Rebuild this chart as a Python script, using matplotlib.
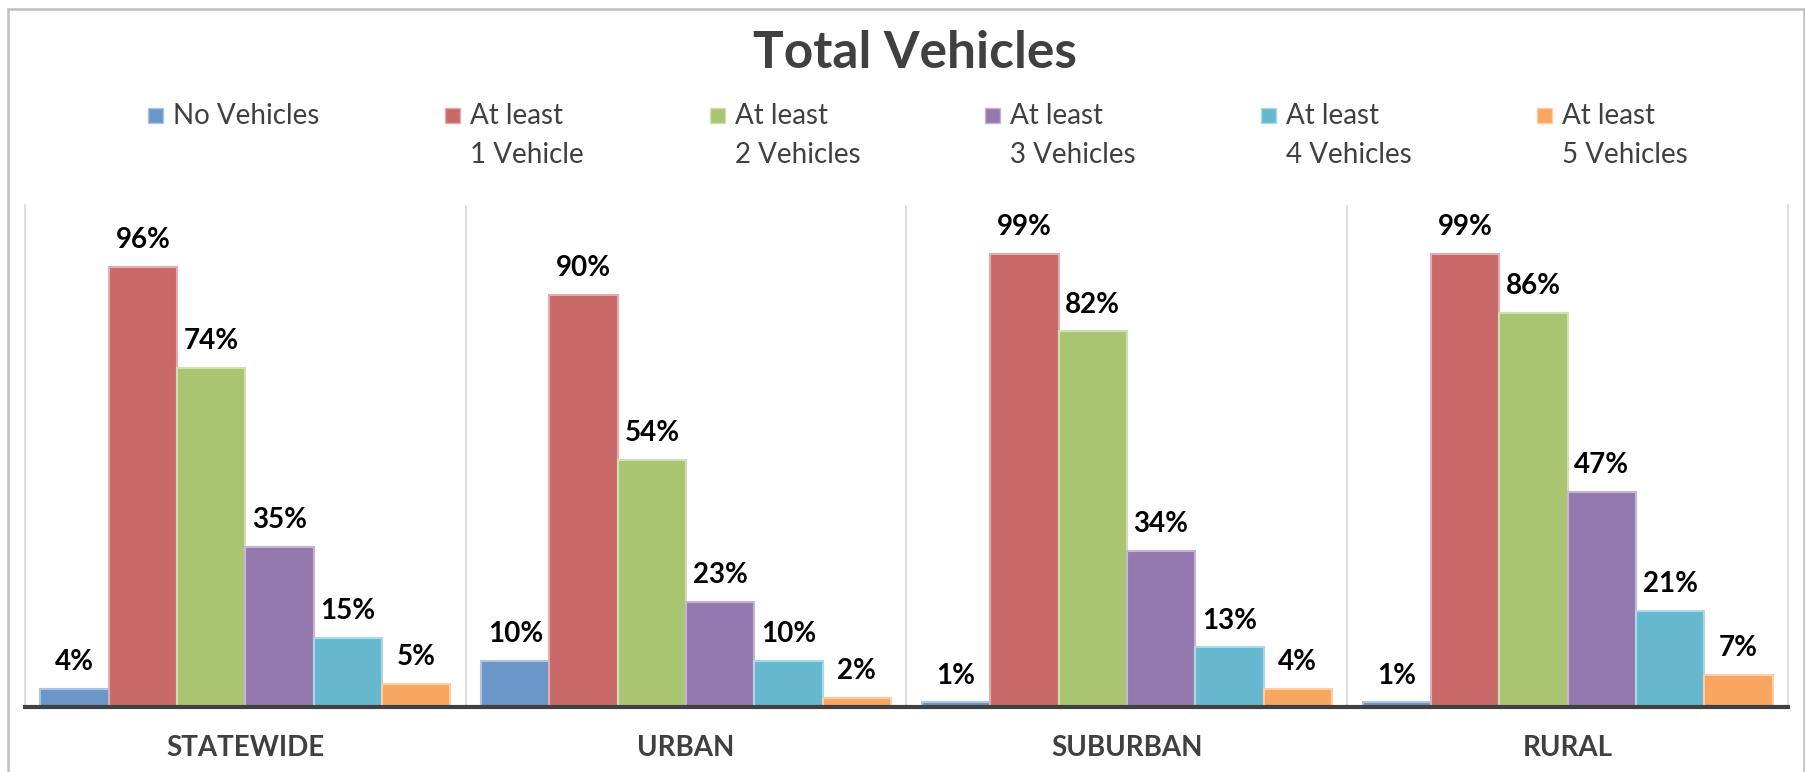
import matplotlib
matplotlib.use('Agg')
import matplotlib.pyplot as plt
from matplotlib.patches import Rectangle
import matplotlib.colors as mcolors
import numpy as np

plt.rcParams['font.family'] = ['Lato', 'DejaVu Sans']

TEXT_GRAY = '#404040'
GRID_GRAY = '#D9D9D9'

categories = ['STATEWIDE', 'URBAN', 'SUBURBAN', 'RURAL']
series_names = ['No Vehicles', 'At least\n1 Vehicle', 'At least\n2 Vehicles',
                'At least\n3 Vehicles', 'At least\n4 Vehicles', 'At least\n5 Vehicles']
colors = ['#6A96C8', '#C9696A', '#AAC572', '#9479AF', '#66B8CF', '#F8A660']

# percent of households, one list per series (statewide, urban, suburban, rural)
no_vehicles = [4, 10, 1, 1]
at_least_1 = [96, 90, 99, 99]
at_least_2 = [74, 54, 82, 86]
at_least_3 = [35, 23, 34, 47]
at_least_4 = [15, 10, 13, 21]
at_least_5 = [5, 2, 4, 7]
series = [no_vehicles, at_least_1, at_least_2, at_least_3, at_least_4, at_least_5]


def lighter(c, amount=0.45):
    r, g, b = mcolors.to_rgb(c)
    return (r + (1 - r) * amount, g + (1 - g) * amount, b + (1 - b) * amount)


W, H = 1806, 772
fig = plt.figure(figsize=(W / 100, H / 100), dpi=100)

# outer chart frame
fig.patches.append(Rectangle((8 / W, -0.05), (1804 - 8) / W, 1.05 - 9 / H,
                             transform=fig.transFigure, fill=False,
                             edgecolor='#BFBFBF', linewidth=1.8))

fig.text(915 / W, 1 - 68 / H, 'Total Vehicles', ha='center', va='baseline',
         fontsize=37, fontweight='bold', color=TEXT_GRAY)

# legend, drawn by hand so the swatch sits on the first line
legend_x = [148, 445, 710, 985, 1261, 1537]
for x, name, c in zip(legend_x, series_names, colors):
    fig.patches.append(Rectangle((x / W, 1 - 122.5 / H), 15 / W, 15 / H,
                                 transform=fig.transFigure, facecolor=c,
                                 edgecolor=lighter(c), linewidth=1))
    lines = name.split('\n')
    for i, line in enumerate(lines):
        fig.text((x + 25) / W, 1 - (124 + 39 * i) / H, line, ha='left',
                 va='baseline', fontsize=20, color=TEXT_GRAY)

ax = fig.add_axes([25 / W, 65 / H, (1788 - 25) / W, 502 / H])
x = np.arange(len(categories))
width = 0.155
for i, (vals, c) in enumerate(zip(series, colors)):
    heights = [v / 100 for v in vals]
    bars = ax.bar(x + (i - 2.5) * width, heights, width, color=c,
                  edgecolor=lighter(c), linewidth=1.5)
    ax.bar_label(bars, labels=[f'{v}%' for v in vals], padding=10,
                 fontsize=20, fontweight='bold', color='black')

ax.set_xlim(-0.5, 3.5)
ax.set_ylim(0, 1.096)
ax.set_yticks([])
ax.set_xticks(x, categories)
ax.tick_params(axis='x', length=0, pad=20, labelsize=20, labelcolor=TEXT_GRAY)
for lbl in ax.get_xticklabels():
    lbl.set_fontweight('bold')

for xs in [0.5, 1.5, 2.5]:
    ax.axvline(xs, color=GRID_GRAY, linewidth=1.2, zorder=0)
ax.spines['top'].set_visible(False)
ax.spines['left'].set_color(GRID_GRAY)
ax.spines['right'].set_color(GRID_GRAY)
ax.spines['left'].set_linewidth(1.2)
ax.spines['right'].set_linewidth(1.2)
ax.spines['bottom'].set_color(TEXT_GRAY)
ax.spines['bottom'].set_linewidth(3)

plt.savefig('out.png', dpi=100)
plt.close()
